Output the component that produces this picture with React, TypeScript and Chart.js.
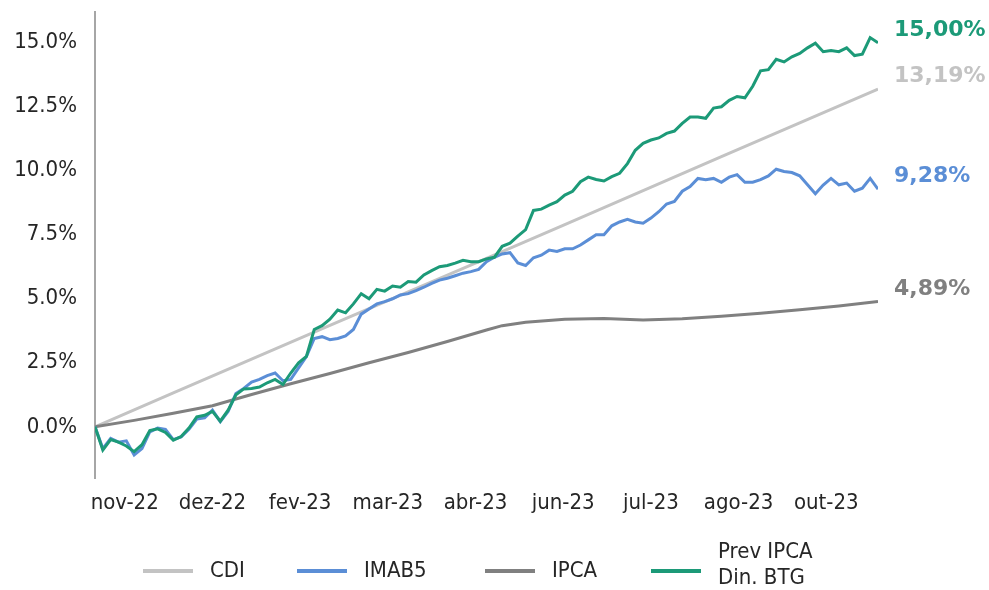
import React, { useEffect, useRef } from "react";
import { Chart, registerables } from "chart.js";

Chart.register(...registerables);

const seriesNames = ["CDI", "IMAB5", "IPCA", "Prev IPCA\nDin. BTG"];
const seriesColors = ["#c3c3c3", "#5b8ed6", "#808080", "#1c9a78"];
const endLabels = ["13,19%", "9,28%", "4,89%", "15,00%"];

const xTickPos = [3.8, 15.0, 26.2, 37.4, 48.6, 59.8, 71.0, 82.2, 93.4];
const xTickLabels = ["nov-22", "dez-22", "fev-23", "mar-23", "abr-23", "jun-23", "jul-23", "ago-23", "out-23"];
const yTicks = [0, 2.5, 5, 7.5, 10, 12.5, 15];

const cdiIdx = [0, 10, 20, 30, 40, 50, 60, 70, 80, 90, 100];
const cdi = [0, 1.32, 2.64, 3.96, 5.27, 6.58, 7.9, 9.22, 10.55, 11.87, 13.19];

const ipcaIdx = [0, 5, 10, 15, 20, 25, 30, 35, 40, 45, 50, 52, 55, 60, 65, 70, 75, 80, 85, 90, 95, 100];
const ipca = [0, 0.25, 0.53, 0.82, 1.26, 1.68, 2.08, 2.5, 2.9, 3.33, 3.78, 3.95, 4.08, 4.2, 4.23, 4.17, 4.22, 4.32, 4.43, 4.57, 4.72, 4.89];

const imab5 = [
  0, -0.85, -0.45, -0.6, -0.55, -1.1, -0.85, -0.2, -0.05, -0.1,
  -0.5, -0.4, -0.1, 0.3, 0.35, 0.65, 0.2, 0.6, 1.3, 1.5,
  1.75, 1.85, 2.0, 2.1, 1.8, 1.85, 2.3, 2.74, 3.45, 3.52,
  3.4, 3.45, 3.55, 3.8, 4.4, 4.6, 4.8, 4.89, 5.0, 5.15,
  5.2, 5.32, 5.45, 5.6, 5.73, 5.8, 5.9, 6.0, 6.06, 6.15,
  6.45, 6.62, 6.75, 6.8, 6.4, 6.3, 6.6, 6.7, 6.9, 6.85,
  6.95, 6.95, 7.1, 7.3, 7.5, 7.5, 7.85, 8.0, 8.1, 8.0,
  7.95, 8.15, 8.4, 8.7, 8.8, 9.2, 9.38, 9.7, 9.65, 9.7,
  9.55, 9.75, 9.85, 9.55, 9.55, 9.65, 9.8, 10.06, 9.97, 9.93,
  9.8, 9.45, 9.1, 9.44, 9.7, 9.45, 9.52, 9.2, 9.32, 9.7,
  9.28,
];

const prevIpca = [
  0, -0.91, -0.5, -0.6, -0.75, -0.97, -0.7, -0.15, -0.08, -0.22,
  -0.52, -0.38, -0.05, 0.39, 0.45, 0.6, 0.22, 0.65, 1.25, 1.48,
  1.5, 1.55, 1.72, 1.85, 1.65, 2.1, 2.5, 2.75, 3.8, 3.95,
  4.2, 4.56, 4.45, 4.8, 5.2, 5.0, 5.37, 5.3, 5.5, 5.45,
  5.67, 5.65, 5.93, 6.1, 6.25, 6.3, 6.39, 6.5, 6.45, 6.45,
  6.56, 6.62, 7.05, 7.17, 7.45, 7.7, 8.45, 8.5, 8.66, 8.79,
  9.05, 9.2, 9.57, 9.75, 9.66, 9.6, 9.77, 9.9, 10.28, 10.8,
  11.07, 11.2, 11.28, 11.46, 11.55, 11.85, 12.1, 12.1, 12.05, 12.45,
  12.5, 12.75, 12.9, 12.85, 13.3, 13.9, 13.95, 14.35, 14.25, 14.45,
  14.58, 14.8, 14.98, 14.65, 14.7, 14.65, 14.8, 14.5, 14.55, 15.2,
  15.0,
];

const TICK_FONT = '"DejaVu Sans Condensed", "DejaVu Sans", sans-serif';
const legendStarts = [143, 297, 485, 651];

const overlayPlugin = {
  id: "overlay",
  afterDraw(chart: any) {
    const ctx = chart.ctx;
    const ys = chart.scales.y;
    const area = chart.chartArea;
    ctx.save();
    // end labels
    ctx.font = 'bold 22px "DejaVu Sans", sans-serif';
    ctx.textBaseline = "middle";
    ctx.textAlign = "left";
    chart.data.datasets.forEach((ds: any, i: number) => {
      const last = ds.data[ds.data.length - 1];
      ctx.fillStyle = seriesColors[i];
      ctx.fillText(endLabels[i], area.right + 16, ys.getPixelForValue(last.y) - 12.5);
    });
    // legend
    ctx.font = "22px " + TICK_FONT;
    const ly = 571;
    seriesNames.forEach((name, i) => {
      const x0 = legendStarts[i];
      ctx.strokeStyle = seriesColors[i];
      ctx.lineWidth = 4;
      ctx.beginPath();
      ctx.moveTo(x0, ly);
      ctx.lineTo(x0 + 50, ly);
      ctx.stroke();
      ctx.fillStyle = "#262626";
      const lines = name.split("\n");
      const lh = 26;
      const startY = ly - 6 - ((lines.length - 1) * lh) / 2;
      lines.forEach((t, k) => {
        ctx.fillText(t, x0 + 67, lines.length > 1 ? startY + k * lh : ly);
      });
    });
    ctx.restore();
  },
};

export default function App() {
  const ref = useRef<HTMLCanvasElement | null>(null);
  useEffect(() => {
    if (!ref.current) return;
    const datasets = [
      { data: cdiIdx.map((x, i) => ({ x, y: cdi[i] })), order: 3 },
      { data: imab5.map((y, i) => ({ x: i, y })), order: 1 },
      { data: ipcaIdx.map((x, i) => ({ x, y: ipca[i] })), order: 2 },
      { data: prevIpca.map((y, i) => ({ x: i, y })), order: 0 },
    ].map((d, i) => ({
      ...d,
      label: seriesNames[i],
      borderColor: seriesColors[i],
      backgroundColor: seriesColors[i],
      borderWidth: 3,
      pointRadius: 0,
      tension: 0,
      fill: false,
    }));
    const chart = new Chart(ref.current, {
      type: "line",
      data: { datasets },
      plugins: [overlayPlugin],
      options: {
        animation: false,
        responsive: false,
        layout: { padding: { left: 0, top: 12, right: 111, bottom: 72 } },
        plugins: { legend: { display: false }, tooltip: { enabled: false } },
        scales: {
          x: {
            type: "linear",
            min: 0,
            max: 100,
            grid: { display: false, drawTicks: false },
            border: { display: false },
            afterBuildTicks: (s: any) => {
              s.ticks = xTickPos.map((v) => ({ value: v }));
            },
            afterFit: (s: any) => {
              s.height = 40;
              s.paddingLeft = 0;
              s.paddingRight = 0;
            },
            ticks: {
              autoSkip: false,
              maxRotation: 0,
              padding: 12,
              color: "#262626",
              font: { family: TICK_FONT, size: 22 },
              callback: (_v: any, i: number) => xTickLabels[i],
            },
          },
          y: {
            min: -2,
            max: 16.2,
            grid: { display: false, drawTicks: false },
            border: { display: true, color: "#a6a6a6", width: 2 },
            afterBuildTicks: (s: any) => {
              s.ticks = yTicks.map((v) => ({ value: v }));
            },
            afterFit: (s: any) => {
              s.width = 95;
              s.paddingTop = 0;
              s.paddingBottom = 0;
            },
            ticks: {
              padding: 18,
              color: "#262626",
              font: { family: TICK_FONT, size: 22 },
              callback: (v: any) => Number(v).toFixed(1) + "%",
            },
          },
        },
      },
    });
    return () => chart.destroy();
  }, []);
  return (
    <div style={{ position: "fixed", left: 0, top: 0, width: 989, height: 590, background: "#fff" }}>
      <canvas ref={ref} width={989} height={590} />
    </div>
  );
}
